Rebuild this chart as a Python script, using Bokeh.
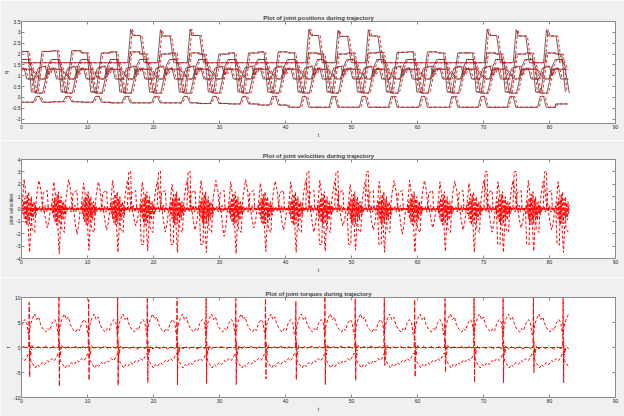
from bokeh.plotting import figure
from bokeh.layouts import column
from bokeh.models import FixedTicker, CustomJSTickFormatter, LinearAxis, Range1d, Title
from bokeh.embed import file_html
from bokeh.resources import INLINE

# ---------------- data ----------------
T_END = 83.0
# reference time of every cycle (fast joint motion / torque spike), s
spike_t = [-3.3, 1.2, 5.7, 10.2, 14.6, 19.1, 23.6, 28.0, 32.5, 37.0,
           41.6, 46.0, 50.6, 55.0, 59.6, 64.2, 68.6, 73.0, 77.6, 82.1]

# joint positions: keyframes of one cycle (offset from spike_t, fraction lo->hi)
j1_off = [-1.2, 0.6, 1.0, 1.5, 1.9, 3.3]
j1_fr = [0, 0, 1, 1, 0, 0]
j1_lo = [-0.22, -0.22, -0.2, -0.22, -0.25, -0.25, -0.25, -0.28, -0.3, -0.35,
         -0.45, -0.45, -0.45, -0.45, -0.45, -0.45, -0.45, -0.45, -0.45, -0.3]
j1_hi = [0.05, 0.05, 0.05, 0.05, 0.05, 0.05, 0.05, 0.05, 0.05, 0.05,
         0.05, 0.05, 0.05, 0.05, 0.05, 0.05, 0.05, 0.05, 0.05, 0.05]

j2_off = [-0.4, 1.5, 1.95, 2.25, 3.4, 3.95, 4.05]
j2_fr = [0, 0, 1, 0.81, 0.81, 0, 0]
j2_lo = [1.6] * 20
j2_hi = [1.6, 1.6, 1.6, 1.6, 3.15, 3.12, 3.15, 1.6, 1.6, 1.6,
         3.15, 3.1, 3.12, 1.6, 1.6, 1.6, 3.15, 3.12, 3.12, 1.6]

j3_off = [-1.2, -0.25, 0.3, 1.1, 1.9, 3.3]
j3_fr = [1, 1, 0, 0, 1, 1]
j3_lo = [0.25] * 20
j3_hi = [2.1, 2.12, 2.15, 2.05, 2.1, 2.0, 2.05, 2.0, 2.05, 2.1,
         2.05, 2.0, 2.05, 2.08, 2.1, 2.05, 2.05, 2.0, 2.05, 2.0]

j4_off = [-1.2, -0.8, -0.4, 0.8, 1.3, 2.4, 2.7, 3.0, 3.3]
j4_fr = [1, 1, 0, 0, 1, 1.2, 0.4, 0.5, 1]
j4_lo = [0.85] * 20
j4_hi = [1.35] * 20

j5_off = [-1.2, 0.3, 0.9, 2.0, 2.8, 3.3]
j5_fr = [1, 1, 0, 0, 1, 1]
j5_lo = [0.2] * 20
j5_hi = [1.3] * 20

j6_off = [-1.2, -0.2, 0.5, 1.2, 1.6, 2.3, 2.9, 3.3]
j6_fr = [1.75, 1.75, 1.25, 1.0, 0.85, 0.85, 1.5, 1.75]
j6_lo = [0.0] * 20
j6_hi = [1.0] * 20

DES_LAG = 0.25  # desired (red dashed) trails the measured one

# joint velocities: keyframes of one cycle (offset, value), per-cycle gain
v1_off = [-1.2, -0.5, -0.25, -0.1, 0.02, 0.2, 0.45, 0.9, 1.15, 1.45, 1.75, 2.0, 3.3]
v1_val = [0, 0, -0.6, -2.4, -3.5, -1.4, 0, 0, 1.3, 2.3, 1.5, 0, 0]
v1_gain = [1.0, 1.0, 1.03, 0.95, 1.0, 0.97, 1.0, 1.0, 1.03, 0.98,
           1.0, 0.97, 0.95, 1.0, 1.0, 0.98, 1.0, 1.0, 0.97, 1.0]
v2_off = [-0.4, 1.45, 1.55, 1.65, 1.95, 2.05, 2.3, 3.35, 3.45, 3.55, 3.9, 4.0, 4.05]
v2_val = [0, 0, 1.5, 3.0, 3.05, 0.5, 0, 0, -1.5, -2.85, -2.9, -0.5, 0]
v2_gain = [0, 0, 0, 0, 1, 1, 1, 0, 0, 0, 1, 1, 1, 0, 0, 0, 1, 1, 1, 0]
v3_off = [-1.2, -1.0, -0.8, -0.6, -0.4, -0.25, 3.3]
v3_val = [0, 0.9, 2.2, 1.4, 0.3, 0, 0]
v3_gain = [1.0, 1.1, 1.0, 0.95, 1.05, 1.0, 0.9, 1.05, 1.0, 0.95,
           1.0, 1.05, 0.9, 1.0, 1.05, 1.0, 0.95, 1.0, 1.05, 1.0]
v4_off = [-1.2, 2.2, 2.45, 2.7, 2.95, 3.2, 3.3]
v4_val = [0, 0, -1.0, -1.7, -1.1, 0, 0]
v4_gain = [1.0, 0.9, 1.2, 1.0, 0.8, 1.1, 1.0, 1.3, 0.9, 1.0,
           1.1, 0.8, 1.0, 1.2, 0.9, 1.0, 1.1, 0.9, 1.0, 1.0]
v5_off = [-1.2, 0.25, 0.4, 0.8, 0.95, 1.95, 2.1, 2.7, 2.85, 3.3]
v5_val = [0, 0, -1.6, -1.9, 0, 0, 1.3, 1.5, 0, 0]
v6_off = [-1.2, -1.1, -1.0, -0.9, -0.8, -0.7, -0.6, -0.5, -0.4, -0.3, -0.2, -0.1, 0.0,
          0.1, 0.2, 0.3, 0.4, 0.5, 0.6, 0.7, 0.8, 0.9, 1.0, 1.1, 1.2, 1.3, 1.4,
          1.6, 1.8, 2.0, 2.2, 2.4, 2.6, 2.8, 3.0, 3.2]
v6_val = [0, 0.3, -0.4, 0.6, -0.8, 0.9, -1.1, 0.7, -1.3, 1.2, -0.9, 1.4, -1.2,
          0.8, -0.6, 1.0, -0.7, 0.5, -0.9, 0.6, -0.4, 0.3, -0.5, 0.2, -0.2, 0.1, 0,
          0.2, -0.25, 0.3, -0.2, 0.3, -0.25, 0.2, -0.1, 0]

# joint torques: keyframes of one cycle (offset, value)
t1_off = [-0.05, 0.15, 0.45, 0.8, 1.1, 1.4, 1.7, 2.1, 2.5, 2.8, 3.1, 3.4, 3.8, 4.1, 4.35]
t1_val = [2.5, 4.5, 5.8, 6.7, 5.6, 6.1, 4.6, 3.6, 3.1, 3.8, 3.4, 4.8, 5.6, 5.0, 2.6]
t2_off = [-0.05, 0.2, 0.5, 0.9, 1.2, 1.5, 1.9, 2.3, 2.7, 3.0, 3.4, 3.8, 4.1, 4.35]
t2_val = [-1.2, -2.6, -3.3, -4.1, -3.4, -3.8, -3.0, -3.4, -2.6, -2.9, -2.2, -2.6, -1.9, -1.2]
t3_off = [-0.05, 0.05, 0.2, 0.4, 0.8, 1.3, 1.8, 2.4, 3.0, 3.6, 4.1, 4.35]
t3_val = [0, 1.2, -1.5, 0.4, -0.3, 0.2, -0.2, 0.3, -0.3, 0.2, -0.2, 0]
t4_off = [-0.1, -0.03, 0.0, 0.04, 0.1, 4.3]
spike_top = [10, 9.0, 10.5, 9.6, 10.5, 10.2, 10.2, 10.2, 9.8, 9.8,
             9.3, 10.3, 9.8, 10, 9.6, 9.8, 10.2, 10.0, 10.0, 10.3]
spike_bot = [-6, -5.9, -7.8, -6.6, -7.6, -7.0, -7.5, -7.2, -7.4, -6.3,
             -6.5, -7.4, -6.6, -3.6, -5.9, -5.0, -7.0, -7.0, -5.0, -7.0]

x_ticks = [0, 10, 20, 30, 40, 50, 60, 70, 80, 90]
q_ticks = [-1, -0.5, 0, 0.5, 1, 1.5, 2, 2.5, 3, 3.5]
v_ticks = [-4, -3, -2, -1, 0, 1, 2, 3, 4]
tau_ticks = [-10, -5, 0, 5, 10]

# ---------------- helpers ----------------
def cyc(offs, fr, lo, hi, shift=0.0):
    xs, ys = [], []
    for k, s in enumerate(spike_t):
        for o, f in zip(offs, fr):
            t = s + o + shift
            if t > T_END:
                continue
            xs.append(t)
            ys.append(lo[k] + f * (hi[k] - lo[k]))
    return xs, ys

def cycv(offs, vals, gain=None):
    xs, ys = [], []
    for k, s in enumerate(spike_t):
        g = 1.0 if gain is None else gain[k]
        for o, v in zip(offs, vals):
            t = s + o
            if t > T_END:
                continue
            xs.append(t)
            ys.append(v * g)
    return xs, ys

BG = "#f0f0f0"
BOX = "#8a8a8a"
FONT = "Liberation Sans"
TXT = "#262626"
RED = "#ff0000"
W = 624

def make(h, top, bottom, ylo, yhi, yticks, title, ylabel):
    p = figure(width=W, height=h, output_backend="svg", toolbar_location=None,
               x_range=Range1d(0, 90), y_range=Range1d(ylo, yhi),
               min_border_left=15, min_border_right=9,
               min_border_top=top, min_border_bottom=bottom)
    p.border_fill_color = BG
    p.background_fill_color = "white"
    p.outline_line_color = BOX
    p.outline_line_width = 1
    p.grid.visible = False
    p.title.text = title
    p.title.text_font = FONT
    p.title.text_font_size = "6px"
    p.title.text_font_style = "bold"
    p.title.align = "center"
    p.title.standoff = 2
    p.title.offset = 0
    fmt = CustomJSTickFormatter(code="return String(tick);")
    for ax, ticks in ((p.xaxis[0], x_ticks), (p.yaxis[0], yticks)):
        ax.ticker = FixedTicker(ticks=ticks)
        ax.formatter = fmt
        ax.major_tick_in = 3
        ax.major_tick_out = 0
        ax.minor_tick_line_color = None
        ax.axis_line_color = BOX
        ax.major_tick_line_color = BOX
        ax.major_label_text_font = FONT
        ax.major_label_text_font_size = "5px"
        ax.major_label_text_color = TXT
        ax.major_label_standoff = 1
        ax.axis_label_text_font = FONT
        ax.axis_label_text_font_size = "5px"
        ax.axis_label_text_font_style = "normal"
        ax.axis_label_text_color = TXT
        ax.axis_label_standoff = 0
    p.xaxis.axis_label = "t"
    # y label as a side title, left of the tick labels
    p.add_layout(Title(text=ylabel, align="center", text_font=FONT,
                       text_font_size="5px", text_font_style="normal",
                       text_color=TXT, standoff=0, offset=0), "left")
    for loc, ticks in (("right", yticks), ("above", x_ticks)):
        ax = LinearAxis(ticker=FixedTicker(ticks=ticks),
                        major_label_text_font_size="0px", major_label_standoff=0,
                        major_tick_in=3, major_tick_out=0,
                        minor_tick_line_color=None, axis_line_color=BOX,
                        major_tick_line_color=BOX)
        p.add_layout(ax, loc)
    return p

# ---------------- joint positions ----------------
p1 = make(140, 21, 16, -1.2, 3.5, q_ticks,
          "Plot of joint positions during trajectory", "q")
joints = [(j1_off, j1_fr, j1_lo, j1_hi), (j2_off, j2_fr, j2_lo, j2_hi),
          (j3_off, j3_fr, j3_lo, j3_hi), (j4_off, j4_fr, j4_lo, j4_hi),
          (j5_off, j5_fr, j5_lo, j5_hi), (j6_off, j6_fr, j6_lo, j6_hi)]
for off, fr, lo, hi in joints:
    x, y = cyc(off, fr, lo, hi)
    p1.line(x, y, line_color="#3c3c3c", line_width=0.8)
for off, fr, lo, hi in joints:
    x, y = cyc(off, fr, lo, hi, shift=DES_LAG)
    p1.line(x, y, line_color=RED, line_width=1, line_dash="3 2", line_alpha=0.85)

# ---------------- joint velocities ----------------
p2 = make(137, 19, 19, -4, 4, v_ticks,
          "Plot of joint velocities during trajectory", "joint velocities")
for off, val, g in ((v6_off, v6_val, None), (v4_off, v4_val, v4_gain),
                    (v5_off, v5_val, None), (v3_off, v3_val, v3_gain),
                    (v2_off, v2_val, v2_gain), (v1_off, v1_val, v1_gain)):
    x, y = cycv(off, val, g)
    p2.line(x, y, line_color=RED, line_width=1, line_dash="3 2")

# ---------------- joint torques ----------------
p3 = make(139, 20, 19, -10, 10, tau_ticks,
          "Plot of joint torques during trajectory", "τ")
x, y = cycv(t1_off, t1_val)
p3.line(x, y, line_color=RED, line_width=1, line_dash="3 2")
x, y = cycv(t2_off, t2_val)
p3.line(x, y, line_color=RED, line_width=1, line_dash="3 2")
x, y = cycv(t3_off, t3_val)
p3.line(x, y, line_color=RED, line_width=1, line_dash="4 2 1 2")
sx, sy = [], []
for k, s in enumerate(spike_t):
    for o, v in zip(t4_off, [0, spike_top[k], 2, spike_bot[k], 0, 0]):
        if s + o <= T_END:
            sx.append(s + o)
            sy.append(v)
p3.line(sx, sy, line_color=RED, line_width=1, line_dash="5 2")

layout = column(p1, p2, p3, spacing=0)
open("out.html", "w").write(file_html(layout, INLINE))
